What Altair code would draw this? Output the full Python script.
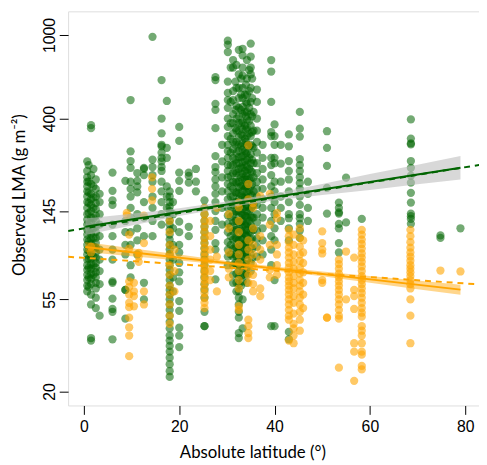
import altair as alt
import pandas as pd

# ---- Observed LMA (g m-2), green series: stripe latitudes and values ----
G_LAT = [0.7, 1.0, 1.5, 2.0, 2.5, 3.3, 6.0, 8.7, 9.8, 11.2, 12.6, 14.4, 16.3, 17.4, 18.0, 18.7,
         20.0, 22.0, 23.5, 25.3, 27.6, 29.0, 30.2, 30.8, 31.3, 31.8, 32.0, 32.5, 33.0, 33.3,
         33.8, 34.0, 34.2, 34.7, 35.0, 35.3, 35.6, 36.3, 37.5, 39.3, 40.0, 41.3, 43.0, 45.3,
         47.0, 51.0, 53.5, 55.0, 58.3, 68.6, 74.8, 79.0]
G_LMA = [
    [250, 225, 210, 200, 190, 180, 170, 160, 150, 140, 132, 125, 118, 112, 106, 100, 95, 90, 85, 80, 76, 72, 68, 64, 60],
    [240, 200, 178, 158, 142, 128, 116, 104, 94, 86, 78, 70, 63],
    [372, 360, 215, 195, 175, 165, 155, 145, 135, 128, 120, 113, 107, 101, 96, 91, 86, 81, 77, 73, 69, 65, 58, 52, 36, 35],
    [230, 190, 168, 150, 134, 120, 108, 98, 88, 80, 72],
    [205, 185, 170, 158, 148, 138, 130, 122, 115, 108, 102, 97, 92, 87, 82, 78, 74, 70, 66, 62, 56, 50],
    [175, 160, 140, 125, 110, 95, 85, 75, 65, 46],
    [221, 181, 163, 155, 125, 110, 95, 85, 67, 66, 55.5, 49.5, 48, 35.5],
    [202, 130, 115, 100, 90, 61, 61, 44.5],
    [490, 279, 251, 233, 200, 185, 170, 150, 135, 115, 100, 80, 70],
    [220, 202, 190, 178, 140, 120, 105, 90],
    [233, 230, 215, 160, 135, 110, 66, 55],
    [980, 255, 235, 215, 200, 170, 150, 130, 110],
    [610, 400, 340, 300, 295, 275, 260, 250, 235, 225, 200, 180, 160, 140, 125],
    [485, 290, 260, 190, 170, 150],
    [180, 170, 160, 152, 145, 138, 131, 125, 118, 112, 106, 100, 95, 90, 85, 80, 76, 72, 68, 64, 61, 58, 55, 52, 49, 46, 43, 40, 37, 35, 33, 31, 29, 27, 25, 23.5],
    [160, 140, 120, 100, 85, 70, 60],
    [365, 313, 221, 202, 181, 129, 115, 100, 92, 82, 74, 67, 54, 48.5, 40.3, 37, 32.6],
    [221, 213, 198, 122, 110],
    [230, 200, 180],
    [163, 150, 140, 130, 122, 115, 108, 102, 96, 90, 85, 80, 75, 70, 65, 61, 56, 48, 41, 41],
    [630, 610, 470, 440, 360, 265, 235, 222, 205, 190, 175, 160, 145, 130, 118, 102, 95, 68.5],
    [300, 250, 210, 180, 150, 125],
    [940, 900, 830, 600, 530, 490, 450, 400, 365, 330, 300, 280, 260, 240, 225, 210, 195, 180, 165, 150, 138, 126, 115, 103, 95, 88, 80],
    [700, 480, 380, 320, 275, 240, 212, 190, 170, 152, 136, 122, 110, 100, 90],
    [760, 700, 540, 490, 420, 380, 340, 310, 285, 260, 240, 220, 200, 185, 170, 155, 140, 128, 116, 106, 96, 88, 80, 72, 66],
    [600, 440, 360, 300, 255, 225, 200, 178, 160, 145, 130, 118, 108, 98, 90, 82],
    [720, 560, 460, 400, 350, 310, 275, 245, 220, 198, 178, 160, 144, 130, 118, 107, 97, 88, 80, 73, 66, 60],
    [850, 650, 560, 500, 450, 410, 380, 350, 325, 300, 280, 262, 245, 230, 215, 200, 188, 176, 165, 155, 145, 136, 128, 120, 112, 105, 98, 92, 86, 80, 75, 70, 65, 60, 56, 52, 48, 45, 38, 36],
    [620, 520, 440, 380, 335, 295, 262, 234, 210, 190, 172, 156, 142, 129, 117, 106, 96, 87, 79, 71, 64],
    [860, 800, 700, 640, 560, 500, 455, 420, 385, 355, 330, 305, 285, 265, 248, 232, 218, 204, 192, 180, 169, 158, 148, 139, 130, 122, 114, 107, 100, 94, 88, 82, 77, 72, 67, 55, 40],
    [520, 430, 370, 320, 280, 250, 225, 205, 185, 168, 152, 138, 125, 113, 102, 92],
    [580, 480, 410, 355, 310, 272, 240, 213, 190, 170, 152, 137, 123, 111, 100, 90, 81, 73],
    [760, 620, 520, 470, 430, 395, 360, 330, 300, 275, 255, 236, 220, 205, 191, 178, 166, 155, 145, 135, 126, 118, 110, 103, 96, 90, 84, 78, 72, 66],
    [680, 540, 450, 390, 340, 295, 260, 230, 205, 182, 162, 145, 130, 116, 104],
    [910, 790, 700, 650, 560, 480, 420, 370, 330, 300, 270, 245, 225, 207, 190, 175, 160, 148, 136, 125, 115, 106, 98, 90, 82, 75],
    [620, 500, 410, 345, 295, 255, 222, 195, 172, 152, 135, 120, 107, 96, 86],
    [430, 350, 290, 245, 210, 180, 155, 135, 118],
    [550, 480, 400, 350, 310, 275, 245, 220, 200, 185, 170, 155, 140, 128, 117, 107, 98, 88],
    [300, 260, 230, 205, 185, 165, 150, 135, 120, 105, 90],
    [760, 670, 480, 345, 330, 260, 240, 215, 190, 170, 150, 130, 110, 95, 80, 41],
    [375, 330, 300, 260, 245, 200, 180, 160, 140, 120, 105, 68, 41],
    [300, 244, 200, 170, 150, 130],
    [336, 295, 251, 225, 205, 180, 160, 140, 134, 120, 105, 38.5, 35.5],
    [430, 358, 328, 256, 240, 225, 210, 197, 185, 170, 155, 140, 134, 126, 117, 108],
    [200, 175, 150, 130],
    [348, 290, 238, 187, 141],
    [159, 150, 143, 141, 126, 120, 102, 92],
    [209, 128],
    [133],
    [396, 321, 305, 301, 251, 233, 214, 198, 177, 159, 141, 137, 133, 126],
    [111, 108],
    [120],
]

# ---- orange series ----
O_LAT = [1.5, 9.0, 9.5, 10.5, 11.5, 12.6, 14.3, 18.0, 19.0, 25.3, 26.5, 27.9, 30.4,
         32.5, 34.5, 35.5, 37.0, 39.0, 40.5, 43.0, 44.0, 45.3, 46.0, 50.0, 51.0, 53.5,
         55.0, 56.7, 58.3, 68.5, 74.8, 79.0]
O_LMA = [
    [98, 92],
    [142, 138],
    [112, 96, 67, 63, 58, 53, 50.5, 45, 40.5, 37, 29.5],
    [66, 60, 57, 51],
    [91.5, 88, 83],
    [138, 102, 60, 52],
    [210, 185, 163],
    [130, 115, 100, 90, 80, 72, 64, 58, 52, 46, 42],
    [95, 75, 60],
    [150, 140, 130, 122, 115, 108, 102, 97, 92, 88, 84, 80, 77, 74, 71, 68, 65, 62, 59, 56, 53, 50],
    [130, 110, 95, 85, 75, 68],
    [150, 88, 60],
    [140, 120, 92, 77, 70],
    [159, 151, 130, 115, 100, 90, 82, 75, 68, 62, 51, 49],
    [298, 195, 165, 105, 95, 85, 78, 72, 66, 44, 41, 38, 36],
    [158, 150, 120, 100, 90, 80, 72, 65, 60],
    [171, 110, 95, 85, 62, 57],
    [175, 125, 100, 76, 70],
    [142, 134, 100, 90, 80, 72],
    [118, 110, 103, 97, 92, 87, 82, 78, 74, 70, 67, 64, 61, 58, 55, 52, 49, 46, 44, 35],
    [112, 100, 90, 83, 77, 71, 66, 62, 57, 53, 47, 42, 40, 37, 34],
    [120, 108, 98, 90, 84, 78, 73, 68, 64, 60, 56, 52, 48, 44, 39],
    [105, 92, 82, 74, 66, 58, 50],
    [116, 102, 95, 91, 68, 66],
    [45, 45],
    [85, 81, 77, 73, 70, 67, 64, 61, 58, 55, 52, 49, 46, 44.5, 26],
    [93, 55],
    [87, 61, 57, 49.5, 34, 31, 22.5],
    [118, 112, 106, 101, 96, 91, 87, 83, 79, 75, 71, 68, 65, 62, 59, 56, 53, 50, 47.5, 45.5, 41, 39, 37, 34, 31, 30, 26.5, 25.5],
    [118, 110, 103, 97, 92, 88, 84, 80, 77, 74, 71, 68, 65, 62, 55, 46, 34],
    [75.5],
    [74.7],
]

# ---- fitted lines and confidence bands ----
G_LINE_LAT = [0.3, 79.0]
G_LINE_LMA = [122.0, 233.0]
G_DASH_LAT = [-3.3, 83.5]
G_DASH_LMA = [116.5, 241.5]
O_LINE_LAT = [0.3, 79.0]
O_LINE_LMA = [97.7, 61.2]
O_DASH_LAT = [-3.3, 83.5]
O_DASH_LMA = [87.8, 64.7]

G_BAND_LAT = [0.3, 10, 20, 30, 40, 50, 60, 70, 79]
G_BAND_LO = [111.5, 123.7, 137.2, 150.7, 162.7, 172.9, 182.8, 194.3, 204.8]
G_BAND_HI = [133.5, 140.8, 149.6, 160.8, 175.5, 194.8, 217.4, 241.1, 265.3]
O_BAND_LAT = [0.3, 10, 20, 30, 40, 50, 60, 70, 79]
O_BAND_LO = [92.6, 88.4, 84.2, 80.2, 75.5, 70.8, 66.0, 61.5, 57.9]
O_BAND_HI = [103.2, 96.4, 89.9, 83.7, 78.9, 74.7, 71.1, 67.7, 64.6]

GREEN = "#006400"
ORANGE = "#FFA500"


def stripes(lats, vals):
    rows = []
    for la, vs in zip(lats, vals):
        for v in vs:
            rows.append({"lat": la, "lma": v})
    return pd.DataFrame(rows)


g_pts = stripes(G_LAT, G_LMA)
o_pts = stripes(O_LAT, O_LMA)

xscale = alt.Scale(domain=[-3.31, 82.89], nice=False, zero=False)
yscale = alt.Scale(type="log", domain=[17.17, 1296.6], nice=False)

xaxis = alt.Axis(values=[0, 20, 40, 60, 80], title="Absolute latitude (°)", grid=False,
                 domain=False, tickSize=9, labelPadding=4, labelFont="Liberation Sans",
                 labelFontSize=16, labelColor="black", tickColor="black",
                 titleFont="Lato", titleFontSize=17, titleFontWeight="normal",
                 titleColor="black", titleX=187, titleY=53, titleBaseline="alphabetic",
                 titleAlign="center")
yaxis = alt.Axis(values=[20, 55, 145, 400, 1000], format="d", title="Observed LMA (g m⁻²)",
                 grid=False, domain=False, tickSize=9, labelPadding=2,
                 labelFont="Liberation Sans", labelFontSize=16, labelColor="black",
                 tickColor="black", labelAngle=270, labelAlign="center",
                 labelBaseline="bottom", titleFont="Lato", titleFontSize=17,
                 titleFontWeight="normal", titleColor="black", titleAngle=270,
                 titleX=-49, titleY=186, titleAlign="center", titleBaseline="middle")

X = alt.X("lat:Q", scale=xscale, axis=xaxis)
Y = alt.Y("lma:Q", scale=yscale, axis=yaxis)

green_pts = alt.Chart(g_pts).mark_circle(size=70, opacity=0.55, color=GREEN).encode(x=X, y=Y)
orange_pts = alt.Chart(o_pts).mark_circle(size=70, opacity=0.6, color=ORANGE).encode(x=X, y=Y)

g_band = alt.Chart(pd.DataFrame({"lat": G_BAND_LAT, "lma": G_BAND_LO, "hi": G_BAND_HI})).mark_area(
    color="#bebebe", opacity=0.6).encode(x=X, y=Y, y2="hi:Q")
o_band = alt.Chart(pd.DataFrame({"lat": O_BAND_LAT, "lma": O_BAND_LO, "hi": O_BAND_HI})).mark_area(
    color=ORANGE, opacity=0.45).encode(x=X, y=Y, y2="hi:Q")

g_line = alt.Chart(pd.DataFrame({"lat": G_LINE_LAT, "lma": G_LINE_LMA})).mark_line(
    color=GREEN, strokeWidth=2, clip=True).encode(x=X, y=Y)
g_dash = alt.Chart(pd.DataFrame({"lat": G_DASH_LAT, "lma": G_DASH_LMA})).mark_line(
    color=GREEN, strokeWidth=2, strokeDash=[6, 5], clip=True).encode(x=X, y=Y)
o_line = alt.Chart(pd.DataFrame({"lat": O_LINE_LAT, "lma": O_LINE_LMA})).mark_line(
    color=ORANGE, strokeWidth=2, clip=True).encode(x=X, y=Y)
o_dash = alt.Chart(pd.DataFrame({"lat": O_DASH_LAT, "lma": O_DASH_LMA})).mark_line(
    color=ORANGE, strokeWidth=2, strokeDash=[6, 5], clip=True).encode(x=X, y=Y)

chart = alt.layer(green_pts, orange_pts, g_band, o_band, g_dash, o_dash, g_line, o_line).properties(
    width=417, height=400,
    padding={"left": 61, "top": 0, "right": 0, "bottom": 57},
    autosize=alt.AutoSizeParams(type="none"),
).configure_view(stroke="black", strokeWidth=1).configure(background="white")

chart.save("out.html", embed_options={"renderer": "svg", "actions": False})
